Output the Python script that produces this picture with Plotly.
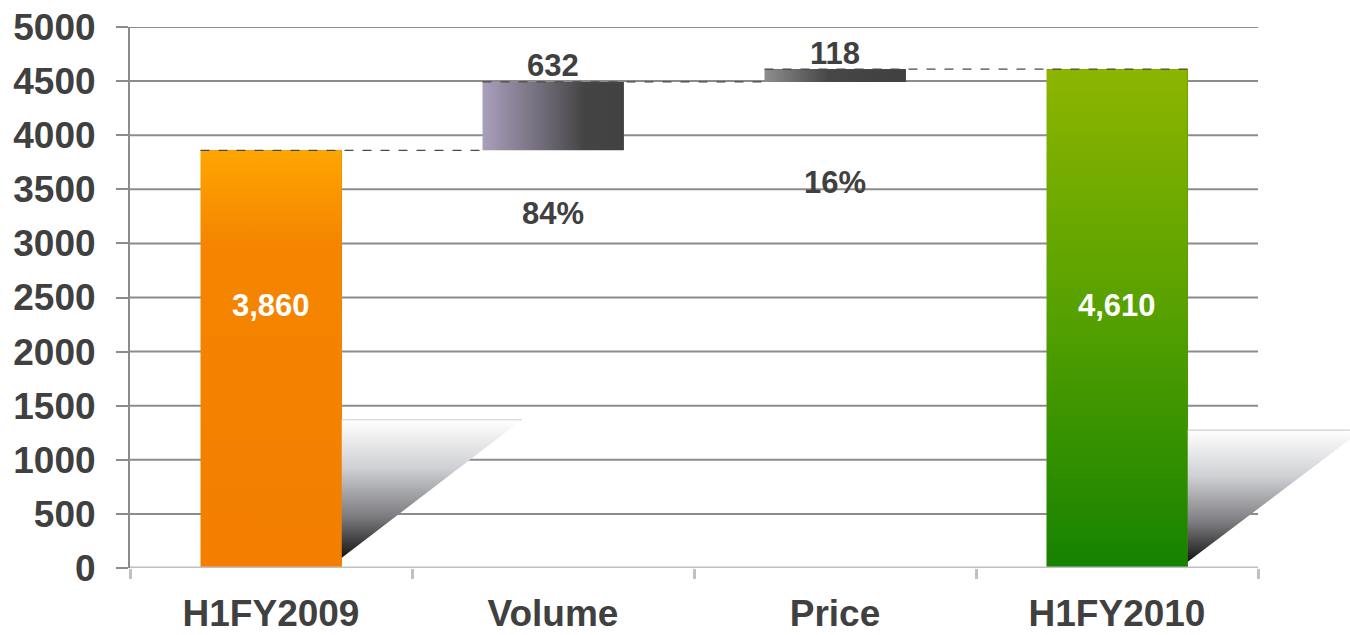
import plotly.graph_objects as go

# ---------------- data ----------------
categories = ["H1FY2009", "Volume", "Price", "H1FY2010"]
values = [3860, 632, 118, 4610]
measures = ["absolute", "relative", "relative", "total"]
y_ticks = [0, 500, 1000, 1500, 2000, 2500, 3000, 3500, 4000, 4500, 5000]

# ---------------- style ----------------
FONT = "Liberation Sans, Arial, sans-serif"
TXT = "#404040"
GRID = "#8c8c8c"
BAR_W = 0.5
bar_solid = ["#f48000", "#5a5a64", "#555555", "#4a9a00"]
bar_grad = [
    dict(type="vertical", colorscale=[[0, "#f37e00"], [0.78, "#f58500"], [1, "#fea600"]]),
    dict(type="horizontal", colorscale=[[0, "#aa9fbc"], [0.5, "#66626c"], [0.72, "#444444"], [1, "#424242"]]),
    dict(type="horizontal", colorscale=[[0, "#8e8e8e"], [0.45, "#474747"], [1, "#404040"]]),
    dict(type="vertical", colorscale=[[0, "#168200"], [0.5, "#55a000"], [1, "#8db500"]]),
]
shadow_grad = dict(type="vertical", colorscale=[[0, "#141414"], [0.3, "#7c7c80"],
                                                [0.65, "#cfd0d3"], [1, "#ffffff"]])
# decorative shadow triangles next to the total bars: (bar index, top, tip x offset, bottom)
shadows = [(0, 1370, 0.64, 92), (3, 1275, 0.62, 55)]

# ---------------- derived geometry ----------------
bases, heights = [], []
running = 0
for v, m in zip(values, measures):
    if m == "absolute":
        bases.append(0); heights.append(v); running = v
    elif m == "relative":
        bases.append(running); heights.append(v); running += v
    else:
        bases.append(0); heights.append(running)
xs = list(range(len(categories)))
half = BAR_W / 2

fig = go.Figure()

# shadows
for i, top, dx, bot in shadows:
    x0 = xs[i] + half
    fig.add_trace(go.Scatter(x=[x0, x0 + dx, x0, x0], y=[top, top, bot, top], mode="lines",
                             fill="toself", fillgradient=shadow_grad, line=dict(width=0),
                             hoverinfo="skip", showlegend=False))
    fig.add_trace(go.Scatter(x=[x0, x0 + dx], y=[top, top], mode="lines",
                             line=dict(color="#cfcfcf", width=1.2), hoverinfo="skip", showlegend=False))

# bars
fig.add_trace(go.Bar(x=xs, y=heights, base=bases, width=BAR_W, marker=dict(color=bar_solid, line=dict(width=0)),
                     hoverinfo="skip", showlegend=False))
# gradient overlays on bars
for i in xs:
    b, h = bases[i], heights[i]
    fig.add_trace(go.Scatter(x=[i - half, i + half, i + half, i - half, i - half],
                             y=[b, b, b + h, b + h, b], mode="lines", fill="toself",
                             fillgradient=bar_grad[i], line=dict(width=0),
                             hoverinfo="skip", showlegend=False))

# dashed connectors
conn = [
    ([xs[0] - half, xs[1] - half], bases[1]),
    ([xs[1] - half, xs[2] - half], bases[2]),
    ([xs[2] - half, xs[3] + half], heights[3]),
]
for xx, yy in conn:
    fig.add_trace(go.Scatter(x=xx, y=[yy, yy], mode="lines",
                             line=dict(color="#4a4a4a", width=1.2, dash="dash"),
                             hoverinfo="skip", showlegend=False))

# gridlines
shapes = []
for t in y_ticks[1:]:
    shapes.append(dict(type="line", xref="x", yref="y", x0=-0.5, x1=3.5, y0=t, y1=t,
                       line=dict(color=GRID, width=2), layer="below"))
shapes.append(dict(type="line", xref="x", yref="y", x0=-0.5, x1=3.5, y0=0, y1=0,
                   line=dict(color="#c0c0c0", width=3), layer="above"))

# annotations
ann = []
bold = dict(family=FONT, size=31, color=TXT, weight="bold")
for i in (0, 3):
    ann.append(dict(x=xs[i], y=2430, text=f"{heights[i]:,}", showarrow=False,
                    font=dict(family=FONT, size=31, color="white", weight="bold")))
delta_total = sum(heights[i] for i in (1, 2))
top_shift = {1: 16, 2: 16}
pct_shift = {1: -63, 2: -101}
for i in (1, 2):
    ann.append(dict(x=xs[i], y=bases[i] + heights[i], text=f"{values[i]}", showarrow=False,
                    yshift=top_shift[i], font=bold))
    ann.append(dict(x=xs[i], y=bases[i], text=f"{round(100 * values[i] / delta_total)}%",
                    showarrow=False, yshift=pct_shift[i], font=bold))

plot_w_px = 1258 - 130
x_right = -0.5 + 4 * (1350 - 130) / plot_w_px

fig.update_layout(
    width=1350, height=635,
    margin=dict(l=130, r=0, t=27, b=67),
    paper_bgcolor="white", plot_bgcolor="white",
    hovermode=False, showlegend=False,
    shapes=shapes, annotations=ann,
    bargap=0,
    xaxis=dict(range=[-0.5, x_right], tickmode="array", tickvals=xs, ticktext=categories,
               ticks="", showgrid=False, zeroline=False, showline=False, automargin=False,
               tickfont=dict(family=FONT, size=37, color=TXT, weight="bold"),
               ticklabelstandoff=20,
               minor=dict(tickmode="array", tickvals=[-0.5, 0.5, 1.5, 2.5, 3.5], ticks="outside",
                          ticklen=10, tickwidth=3, tickcolor="#c0c0c0", showgrid=False)),
    yaxis=dict(range=[0, 5000], tickmode="array", tickvals=y_ticks, showgrid=False, zeroline=False,
               showline=True, linecolor=GRID, linewidth=2, ticks="outside", ticklen=12,
               tickwidth=2, tickcolor=GRID, ticklabelstandoff=13, automargin=False,
               tickfont=dict(family=FONT, size=37, color=TXT, weight="bold")),
)

fig.write_html("out.html")
